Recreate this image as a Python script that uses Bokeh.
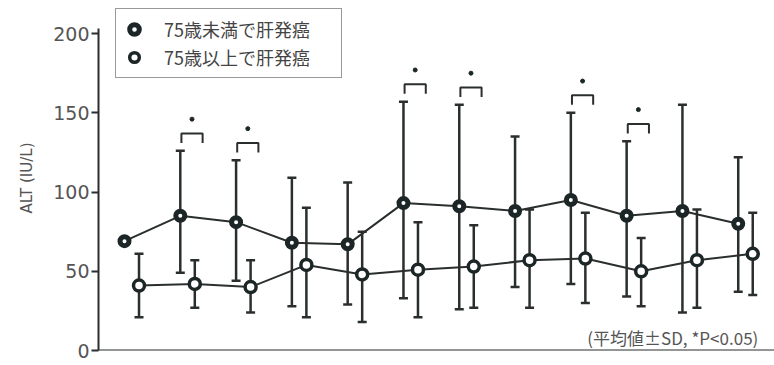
import math
from bokeh.plotting import figure
from bokeh.models import (ColumnDataSource, Whisker, TeeHead, Legend, LegendItem,
                          Label, Span, FixedTicker, Range1d)
from bokeh.embed import file_html
from bokeh.resources import INLINE

# ---- data ----
idx = list(range(12))
under75_mean = [69, 85, 81, 68, 67, 93, 91, 88, 95, 85, 88, 80]
under75_upper = [None, 126, 120, 109, 106, 157, 155, 135, 150, 132, 155, 122]
under75_lower = [None, 49, 44, 28, 29, 33, 26, 40, 42, 34, 24, 37]
over75_mean = [41, 42, 40, 54, 48, 51, 53, 57, 58, 50, 57, 61]
over75_upper = [61, 57, 57, 90, 75, 81, 79, 89, 87, 71, 89, 87]
over75_lower = [21, 27, 24, 21, 18, 21, 27, 27, 30, 28, 27, 35]
significant = [1, 2, 5, 6, 8, 9]
y_ticks = [0, 50, 100, 150, 200]
legend_labels = ["75歳未満で肝発癌", "75歳以上で肝発癌"]
y_label = "ALT (IU/L)"
note = "(平均値±SD, *P<0.05)"

OFFSET = 0.26
DARK = "#1c2626"
LINE = "#2a2f2e"
GRAY = "#555555"

p = figure(width=774, height=365, output_backend="svg", toolbar_location=None,
           x_range=Range1d(-0.466, 11.65), y_range=Range1d(0, 217.7),
           x_axis_location=None, min_border_left=98, min_border_right=0,
           min_border_top=5, min_border_bottom=15)
p.outline_line_color = None
p.grid.visible = False
p.background_fill_color = "white"
p.border_fill_color = "white"

ya = p.yaxis[0]
ya.ticker = FixedTicker(ticks=y_ticks)
ya.bounds = (0, 203)
ya.axis_line_width = 2
ya.axis_line_color = LINE
ya.major_tick_line_width = 2
ya.major_tick_line_color = LINE
ya.major_tick_in = 0
ya.major_tick_out = 7
ya.minor_tick_line_color = None
ya.major_label_standoff = 2
ya.major_label_text_font = "DejaVu Sans"
ya.major_label_text_font_size = "19px"
ya.major_label_text_color = GRAY
ya.axis_label = y_label
ya.axis_label_text_font = "DejaVu Sans"
ya.axis_label_text_font_size = "15px"
ya.axis_label_text_font_style = "normal"
ya.axis_label_text_color = GRAY
ya.axis_label_standoff = 14

p.add_layout(Span(location=0, dimension="width", line_color=LINE, line_width=2))

x1 = idx
x2 = [i + OFFSET for i in idx]

# lines
p.line(x1, under75_mean, line_color=LINE, line_width=2)
p.line(x2, over75_mean, line_color=LINE, line_width=2)

# error bars
e1 = [i for i in idx if under75_upper[i] is not None]
src1 = ColumnDataSource(dict(x=[x1[i] for i in e1],
                             up=[under75_upper[i] for i in e1],
                             lo=[under75_lower[i] for i in e1]))
src2 = ColumnDataSource(dict(x=x2, up=over75_upper, lo=over75_lower))
for src in (src1, src2):
    p.segment(x0="x", y0="lo", x1="x", y1="up", source=src, line_color=LINE, line_width=2.5)
    w = Whisker(base="x", upper="up", lower="lo", source=src, dimension="height",
                line_alpha=0,
                upper_head=TeeHead(size=9, line_width=2.5, line_color=LINE),
                lower_head=TeeHead(size=9, line_width=2.5, line_color=LINE))
    p.add_layout(w)

# markers
r1 = p.scatter(x1, under75_mean, size=9, fill_color="white", line_color=DARK, line_width=5)
r2 = p.scatter(x2, over75_mean, size=11, fill_color="white", line_color=DARK, line_width=3.5)

# significance brackets
bx, by, sx, sy = [], [], [], []
for i in significant:
    top = under75_upper[i] + 11
    a, b = i + 0.02, i + 0.40
    bx.append([a, a, b, b])
    by.append([top - 6, top, top, top - 6])
    sx.append(i + 0.21)
    sy.append(top + 9)
p.multi_line(bx, by, line_color=LINE, line_width=2)
p.scatter(sx, sy, size=4, fill_color=DARK, line_color=DARK)

# legend
legend = Legend(items=[LegendItem(label=legend_labels[0], renderers=[r1]),
                       LegendItem(label=legend_labels[1], renderers=[r2])],
                location=(17, 272), orientation="vertical",
                label_text_font="Noto Sans CJK JP", label_text_font_size="18px",
                label_text_color="#444444",
                border_line_color="#333333", border_line_width=1.5,
                background_fill_color="white", background_fill_alpha=1,
                padding=6, spacing=0, margin=0,
                glyph_width=24, glyph_height=28, label_height=28,
                label_standoff=18, label_width=171)
p.add_layout(legend, "center")

# note
p.add_layout(Label(x=11.36, y=8, text=note, text_align="right", text_baseline="alphabetic",
                   text_font="Noto Sans CJK JP", text_font_size="17px", text_color=GRAY))

open("out.html", "w").write(file_html(p, INLINE))
